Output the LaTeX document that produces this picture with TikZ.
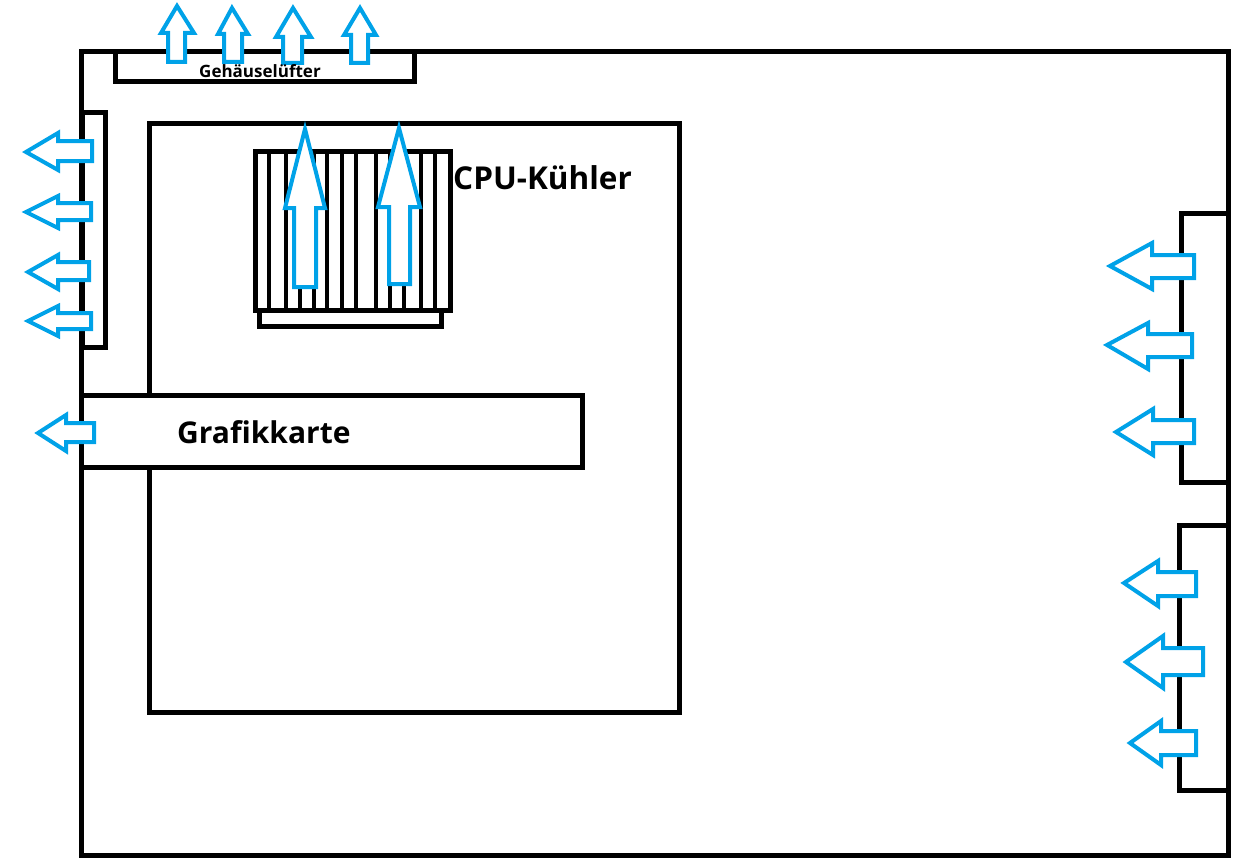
\documentclass[tikz,border=0pt]{standalone}
\usepackage{fontspec}
\setmainfont{Open Sans}
\definecolor{paintblue}{RGB}{0,162,232}
\tikzset{
  box/.style={draw=black, line width=5pt, fill=white},
  fin/.style={draw=black, line width=4pt},
  airflow/.style={draw=paintblue, line width=4pt, fill=white, line join=miter},
  biglabel/.style={inner sep=0pt, anchor=base west, font=\bfseries\fontsize{30}{30}\selectfont},
  cpulabel/.style={inner sep=0pt, anchor=base west, font=\bfseries\fontsize{31.5}{32}\selectfont},
  smalllabel/.style={inner sep=0pt, anchor=base west, font=\bfseries\fontsize{17}{17}\selectfont}
}
% left-pointing arrow: tip x, tip y, head back x, head top, head bottom, shaft top, shaft bottom, right x
\newcommand{\larrow}[8]{\draw[airflow] (#1,#2) -- (#3,#4) -- (#3,#6) -- (#8,#6) -- (#8,#7) -- (#3,#7) -- (#3,#5) -- cycle;}
% up-pointing arrow: tip x, tip y, head left, head right, head y, shaft left, shaft right, bottom y
\newcommand{\uarrow}[8]{\draw[airflow] (#1,#2) -- (#4,#5) -- (#7,#5) -- (#7,#8) -- (#6,#8) -- (#6,#5) -- (#3,#5) -- cycle;}
\begin{document}
\begin{tikzpicture}[x=1pt,y=-1pt]
\useasboundingbox[fill=white] (0,0) rectangle (1240,867);
% case
\draw[box] (81,52) rectangle (1228,855);
% case fan
\draw[box] (115,52) rectangle (414,82);
% left fan box
\draw[box] (82,112) rectangle (105,347);
% mainboard
\draw[box] (149,123) rectangle (679,712);
% graphics card
\draw[box] (81,395) rectangle (582,467);
\node[biglabel] (gk) at (177,443) {Grafikkarte};
% cpu cooler
\draw[box] (259,308) rectangle (441,326);
\draw[box] (255,151) rectangle (450,310);
\foreach \fx in {269,286,300,314,327,342,356,376,390,404,421,435}
  \draw[fin] (\fx,151) -- (\fx,310);
\node[cpulabel] (cpu) at (453,189) {CPU-Kühler};
% right fan boxes
\draw[box] (1181,213) rectangle (1228,482);
\draw[box] (1179,525) rectangle (1228,790);
% top arrows
\uarrow{177}{6}{161}{194}{33}{168}{185}{62}
\uarrow{232}{8}{218}{248}{34}{224}{242}{62}
\uarrow{293}{8}{276}{311}{37}{283}{302}{63}
\uarrow{360}{8}{344}{376}{35}{351}{368}{63}
\node[smalllabel] (gehl) at (199,77.5) {Gehäuselüfter};
% cpu arrows
\uarrow{305}{129}{285}{325}{208}{294}{316}{287}
\uarrow{399}{128}{378}{420}{207}{389}{410}{284}
% left arrows
\larrow{26}{152}{58}{133}{170}{141}{161}{92}
\larrow{26}{212}{58}{196}{228}{203}{220}{91}
\larrow{28}{272}{58}{255}{289}{262}{280}{89}
\larrow{28}{321}{58}{306}{336}{313}{329}{91}
\larrow{38}{433}{66}{415}{451}{423}{442}{94}
% right arrows
\larrow{1110}{266}{1152}{243}{289}{255}{278}{1194}
\larrow{1107}{345}{1148}{323}{369}{334}{357}{1192}
\larrow{1116}{432}{1153}{409}{455}{420}{443}{1194}
\larrow{1124}{583}{1158}{561}{606}{572}{596}{1196}
\larrow{1126}{662}{1163}{636}{688}{648}{675}{1203}
\larrow{1130}{743}{1161}{721}{765}{731}{755}{1196}
\end{tikzpicture}
\end{document}
